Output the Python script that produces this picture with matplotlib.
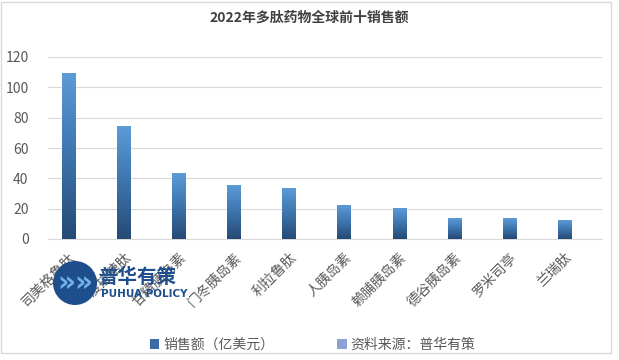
import numpy as np
import matplotlib
matplotlib.use("Agg")
import matplotlib.pyplot as plt
from matplotlib.patches import Patch, Ellipse
from matplotlib.colors import LinearSegmentedColormap

plt.rcParams['font.family'] = ['Noto Sans CJK SC', 'DejaVu Sans']

# Data
drugs = ['司美格鲁肽', '度拉糖肽', '甘精胰岛素', '门冬胰岛素', '利拉鲁肽',
         '人胰岛素', '赖脯胰岛素', '德谷胰岛素', '罗米司亭', '兰瑞肽']
sales = [109.3, 74.5, 43.5, 35.6, 33.0, 22.4, 20.4, 13.2, 13.2, 12.5]
yticks = [0, 20, 40, 60, 80, 100, 120]

title = '2022年多肽药物全球前十销售额'
legend_labels = ['销售额（亿美元）', '资料来源：普华有策']

fig = plt.figure(figsize=(6.19, 3.6), dpi=100)
ax = fig.add_axes([48 / 619, 1 - 239 / 360, 554 / 619, 182 / 360])

# gradient bars: dark at bottom, lighter at top
cmap = LinearSegmentedColormap.from_list('bar', ['#254a74', '#3d74ad', '#5b9bd8'])
grad = np.linspace(0, 1, 256).reshape(-1, 1)
width = 0.24
for i, v in enumerate(sales):
    ax.imshow(grad, cmap=cmap, origin='lower', aspect='auto',
              extent=(i - width / 2, i + width / 2, 0, v), zorder=3)

ax.set_xlim(-0.372, 9.68)
ax.set_ylim(0, 120)
ax.set_yticks(yticks)
ax.set_xticks(range(len(drugs)))
ax.set_xticklabels(drugs, rotation=45, ha='right', va='top',
                   rotation_mode='anchor', fontsize=10, color='#595959')
ax.tick_params(axis='y', labelsize=10, labelcolor='#595959', length=0, pad=14)
ax.tick_params(axis='x', length=0, pad=8)
ax.grid(axis='y', color='#d9d9d9', linewidth=0.8, zorder=0)
for s in ['top', 'right', 'left']:
    ax.spines[s].set_visible(False)
ax.spines['bottom'].set_color('#d9d9d9')

fig.text(0.5, 1 - 18 / 360, title, ha='center', va='center',
         fontsize=10, fontweight='bold', color='#404040')

handles = [Patch(facecolor='#3a6da5'), Patch(facecolor='#8fa1d1')]
fig.legend(handles, legend_labels, loc='center', bbox_to_anchor=(0.505, 1 - 345 / 360),
           ncol=2, frameon=False, fontsize=10, labelcolor='#595959',
           handlelength=0.7, handleheight=0.7, handletextpad=0.3, columnspacing=4.5)

# watermark logo
logo = Ellipse((75 / 619, 1 - 283 / 360), 44 / 619, 44 / 360, transform=fig.transFigure,
               facecolor='#1f4e8c', edgecolor='none', zorder=5)
fig.patches.append(logo)
fig.text(75 / 619, 1 - 283 / 360, '»»', fontsize=20, fontweight='bold', color='#6fb3e8',
         ha='center', va='center', family='DejaVu Sans', zorder=6)
fig.text(98 / 619, 1 - 277 / 360, '普华有策', fontsize=14, fontweight='bold',
         color='#1f4e8c', va='center', ha='left', zorder=6)
fig.text(101 / 619, 1 - 294 / 360, 'PUHUA POLICY', fontsize=7.5, fontweight='bold',
         color='#1f4e8c', va='center', ha='left', family='DejaVu Sans', zorder=6)

# outer border
fig.patches.append(plt.Rectangle((0.002, 0.02), 0.985, 0.975, transform=fig.transFigure,
                                 fill=False, edgecolor='#d9d9d9', linewidth=1))

fig.savefig('out.png', dpi=100)
